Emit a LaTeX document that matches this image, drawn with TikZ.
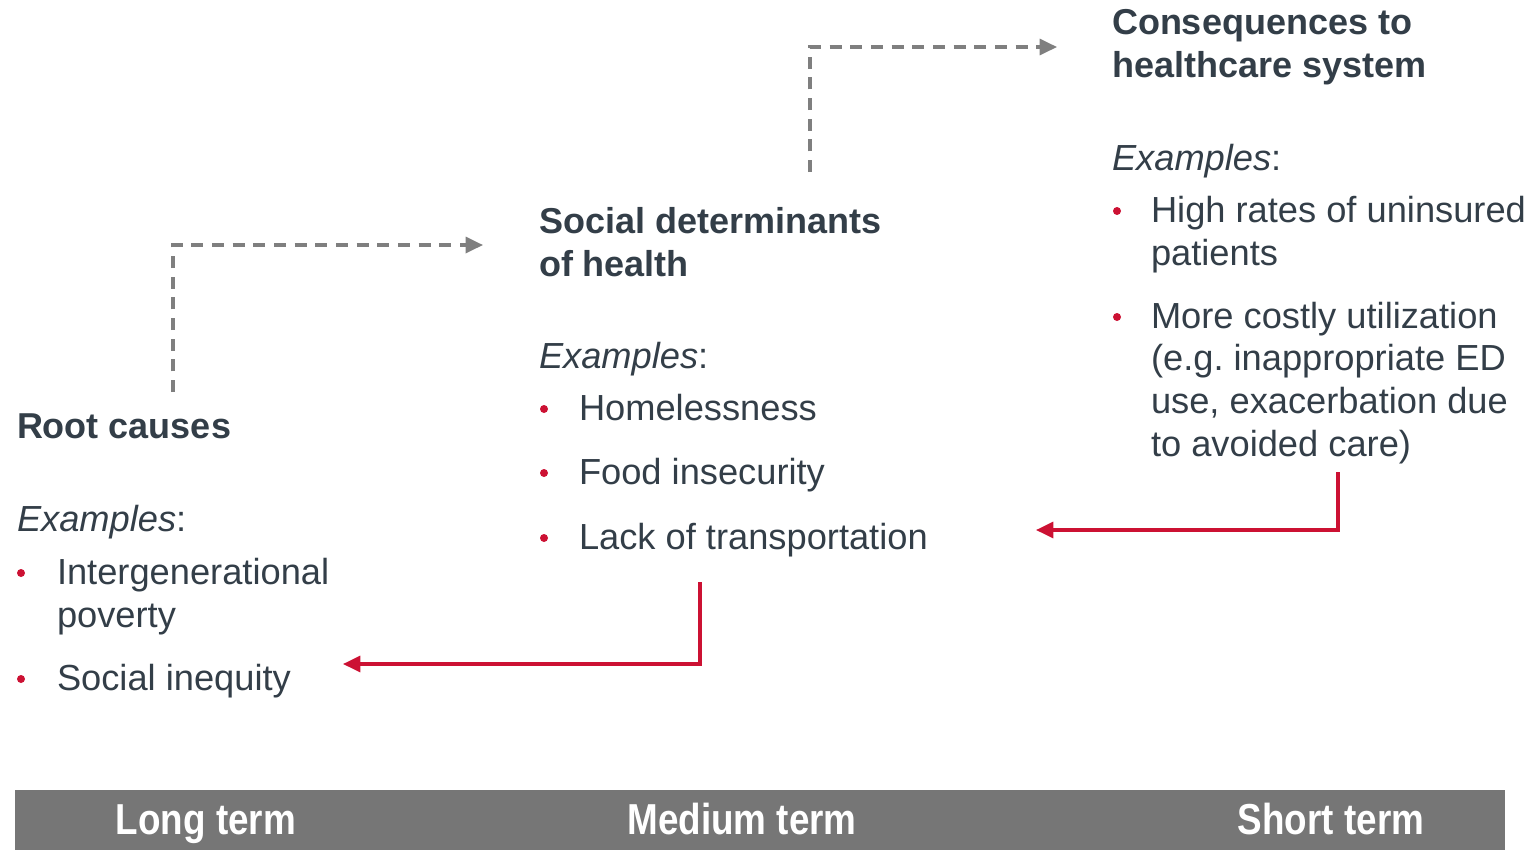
\documentclass[tikz,border=0pt]{standalone}
\usepackage{fontspec}
\setmainfont{Liberation Sans}
\newfontfamily\narrowfont{Liberation Sans}[FakeStretch=0.85]
\usetikzlibrary{arrows.meta}
\definecolor{txt}{HTML}{333E48}
\definecolor{accent}{HTML}{CC1133}
\definecolor{dashgray}{HTML}{7F7F7F}
\definecolor{barfill}{HTML}{767676}
\frenchspacing
\begin{document}
\begin{tikzpicture}[x=0.75pt,y=-0.75pt,
  every node/.style={inner sep=0pt, outer sep=0pt, text=txt},
  body/.style={anchor=base west, align=left, font=\fontsize{27.2}{32}\selectfont},
  head/.style={anchor=base west, align=left, font=\fontsize{27}{32.25}\selectfont\bfseries},
  ex/.style={anchor=base west, font=\fontsize{27.2}{32}\selectfont},
  bul/.style={circle, fill=accent, minimum size=6pt},
  dashedarrow/.style={draw=dashgray, line width=2.5pt, dash pattern=on 9pt off 6.5pt, -{Triangle[length=13pt,width=12pt]}},
  feedback/.style={draw=accent, line width=2.3pt, -{Triangle[length=13pt,width=12pt]}},
  termlabel/.style={anchor=base, text=white, font=\fontsize{32.5}{36}\selectfont\narrowfont\bfseries},
]
\useasboundingbox (0,0) rectangle (1538,850);

% Column 1: Root causes
\node[head] (rc) at (17,438) {Root causes};
\node[ex] (rcex) at (17,531) {\textit{Examples}:};
\node[bul] (rcb1) at (21,573) {};
\node[body] (rci1) at (57,627) {Intergenerational\\poverty};
\node[bul] (rcb2) at (21,679) {};
\node[body] (rci2) at (57,690) {Social inequity};

% Column 2: Social determinants
\node[head] (sd) at (539,276) {Social determinants\\of health};
\node[ex] (sdex) at (539,368) {\textit{Examples}:};
\node[bul] (sdb1) at (544,409) {};
\node[body] (sdi1) at (579,420) {Homelessness};
\node[bul] (sdb2) at (544,473) {};
\node[body] (sdi2) at (579,484) {Food insecurity};
\node[bul] (sdb3) at (544,538) {};
\node[body] (sdi3) at (579,549) {Lack of transportation};

% Column 3: Consequences
\node[head] (cq) at (1112,77) {Consequences to\\healthcare system};
\node[ex] (cqex) at (1112,170) {\textit{Examples}:};
\node[bul] (cqb1) at (1117,211) {};
\node[body] (cqi1) at (1151,265) {High rates of uninsured\\patients};
\node[bul] (cqb2) at (1117,317) {};
\node[body] (cqi2) at (1151,456) {More costly utilization\\(e.g. inappropriate ED\\use, exacerbation due\\to avoided care)};

% Connector end points
\coordinate (d1s) at (173,392);
\coordinate (d1e) at (483,245);
\coordinate (d2s) at (810,172);
\coordinate (d2e) at (1057,47);
\coordinate (r1s) at (1338,472);
\coordinate (r1e) at (1036,530);
\coordinate (r2s) at (700,582);
\coordinate (r2e) at (343,664);

\draw[dashedarrow] (d1s) |- (d1e);
\draw[dashedarrow] (d2s) |- (d2e);
\draw[feedback] (r1s) |- (r1e);
\draw[feedback] (r2s) |- (r2e);

% Bottom bar
\node[fill=barfill, minimum width=1490*0.75pt, minimum height=60*0.75pt, anchor=north west] (bar) at (15,790) {};
\node[termlabel] (lt) at (206,834) {Long term};
\node[termlabel] (mt) at (742,834) {Medium term};
\node[termlabel] (st) at (1331,834) {Short term};
\end{tikzpicture}
\end{document}
